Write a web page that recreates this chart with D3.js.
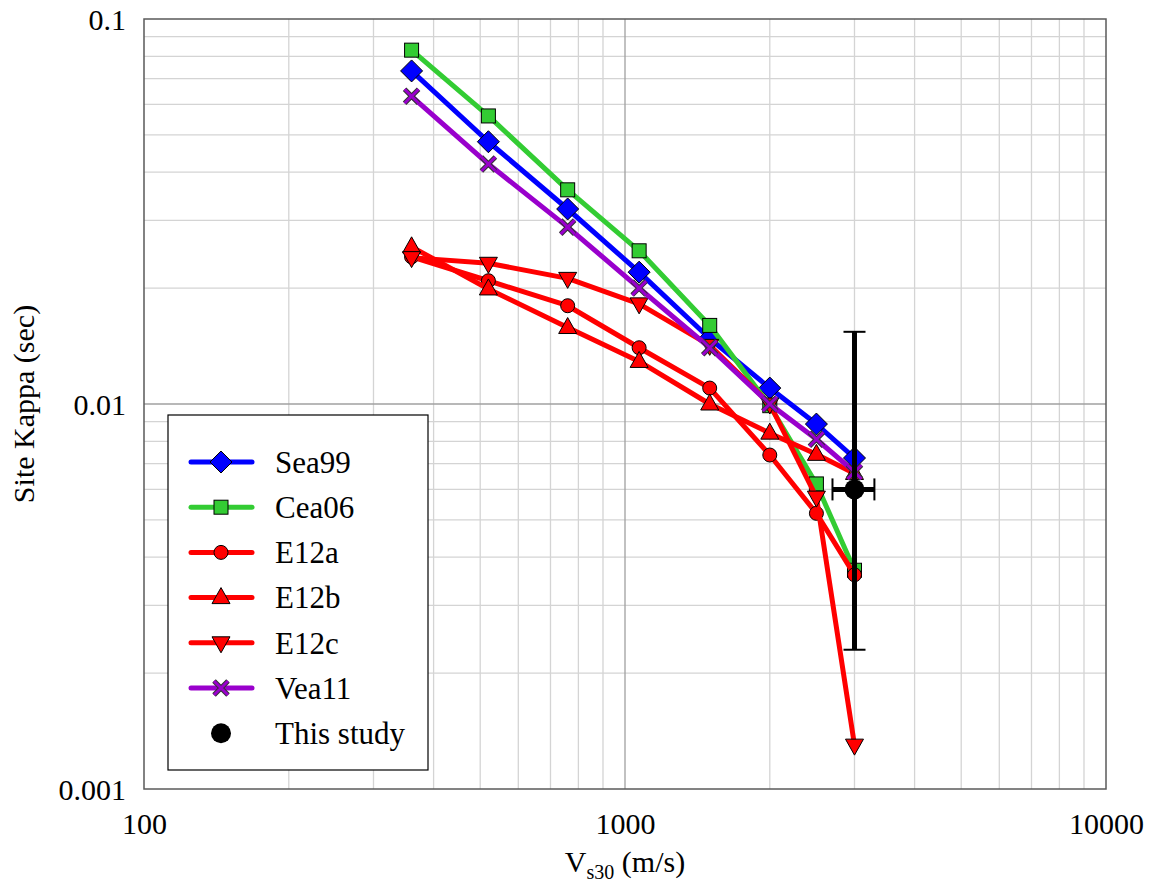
<!DOCTYPE html>
<html>
<head>
<meta charset="utf-8">
<script src="https://cdn.jsdelivr.net/npm/d3@7"></script>
<style>
  html, body { margin: 0; padding: 0; background: #fff; }
  #chart text { font-family: "Liberation Serif", "Times New Roman", Times, serif !important; fill: #000; }
</style>
</head>
<body>
<svg id="chart" width="1152" height="886"></svg>
<script>
// Vs30 values (m/s) at which each site-kappa model is evaluated
const vs30 = [360, 520, 760, 1070, 1500, 2000, 2500, 3000];

// Site kappa (sec) per model
const sea99 = [0.0733, 0.048, 0.0321, 0.0220, 0.0148, 0.0110, 0.00887, 0.00724];
const cea06 = [0.083, 0.056, 0.036, 0.0250, 0.0160, 0.0099, 0.0062, 0.0037];
const e12a  = [0.0241, 0.0209, 0.0180, 0.0140, 0.0110, 0.00737, 0.0052, 0.0036];
const e12b  = [0.0256, 0.0199, 0.0158, 0.0129, 0.0100, 0.0084, 0.0074, 0.0066];
const e12c  = [0.0240, 0.0232, 0.0212, 0.0182, 0.0142, 0.0100, 0.00573, 0.0013];
const vea11 = [0.063, 0.042, 0.0288, 0.0200, 0.0140, 0.0100, 0.0081, 0.00666];

// This study: single estimate with error bars
const studyVs30 = 3000, studyVsLo = 2700, studyVsHi = 3300;
const studyKappa = 0.0060, studyKappaLo = 0.0023, studyKappaHi = 0.0154;

const seriesNames = ["Sea99", "Cea06", "E12a", "E12b", "E12c", "Vea11"];
const seriesValues = [sea99, cea06, e12a, e12b, e12c, vea11];
const seriesColors = ["#0000ff", "#33cc33", "#ff0000", "#ff0000", "#ff0000", "#9900cc"];
const seriesMarkers = ["diamond", "square", "circle", "triangleUp", "triangleDown", "cross"];

const xTicks = [100, 1000, 10000];
const yTicks = [0.001, 0.01, 0.1];

const serif = '"Liberation Serif", "Times New Roman", Times, serif';
const svg = d3.select("#chart");
const plotL = 144, plotR = 1106, plotT = 19, plotB = 789;

const x = d3.scaleLog().domain([100, 10000]).range([plotL, plotR]);
const y = d3.scaleLog().domain([0.001, 0.1]).range([plotB, plotT]);

// Grid: minor lines at 2..9 of each decade, major at decades
const minorX = [], minorY = [];
for (const d of [100, 1000]) for (let k = 2; k <= 9; k++) minorX.push(d * k);
for (const d of [0.001, 0.01]) for (let k = 2; k <= 9; k++) minorY.push(d * k);

const grid = svg.append("g");
grid.selectAll(".mx").data(minorX).join("line")
  .attr("x1", d => x(d)).attr("x2", d => x(d)).attr("y1", plotT).attr("y2", plotB)
  .attr("stroke", "#d4d4d4").attr("stroke-width", 1.3);
grid.selectAll(".my").data(minorY).join("line")
  .attr("x1", plotL).attr("x2", plotR).attr("y1", d => y(d)).attr("y2", d => y(d))
  .attr("stroke", "#d4d4d4").attr("stroke-width", 1.3);
grid.selectAll(".Mx").data(xTicks.slice(1, -1)).join("line")
  .attr("x1", d => x(d)).attr("x2", d => x(d)).attr("y1", plotT).attr("y2", plotB)
  .attr("stroke", "#a0a0a0").attr("stroke-width", 1.3);
grid.selectAll(".My").data(yTicks.slice(1, -1)).join("line")
  .attr("x1", plotL).attr("x2", plotR).attr("y1", d => y(d)).attr("y2", d => y(d))
  .attr("stroke", "#a0a0a0").attr("stroke-width", 1.3);

// Plot frame
svg.append("rect").attr("x", plotL).attr("y", plotT)
  .attr("width", plotR - plotL).attr("height", plotB - plotT)
  .attr("fill", "none").attr("stroke", "#5a5a5a").attr("stroke-width", 1.5);

// Axes (labels only, frame drawn above)
const xAxis = d3.axisBottom(x).tickValues(xTicks).tickFormat(d3.format("d")).tickSize(0).tickPadding(24);
const yAxis = d3.axisLeft(y).tickValues(yTicks).tickFormat(d => String(d)).tickSize(0).tickPadding(18);
const gx = svg.append("g").attr("transform", `translate(0,${plotB})`).call(xAxis);
const gy = svg.append("g").attr("transform", `translate(${plotL},0)`).call(yAxis);
for (const g of [gx, gy]) {
  g.select(".domain").remove();
  g.attr("font-family", null).attr("font-size", null);
  g.selectAll("text").style("font-family", serif).style("font-size", "30px");
}
gy.selectAll("text").attr("dy", "0.35em");

// Axis titles
svg.append("text").attr("transform", `translate(34,${(plotT + plotB) / 2}) rotate(-90)`)
  .attr("text-anchor", "middle").style("font-family", serif).style("font-size", "30px").text("Site Kappa (sec)");
const xt = svg.append("text").attr("x", 625).attr("y", 872).attr("text-anchor", "middle")
  .style("font-family", serif).style("font-size", "30px");
xt.append("tspan").text("V");
xt.append("tspan").style("font-size", "20px").attr("dy", 7).text("s30");
xt.append("tspan").attr("dy", -7).text(" (m/s)");

// Marker drawing
function drawMarker(g, type, color) {
  const s = "#000", sw = 1;
  switch (type) {
    case "diamond":
      g.append("path").attr("d", "M0,-11L11,0L0,11L-11,0Z").attr("fill", color).attr("stroke", s).attr("stroke-width", sw); break;
    case "square":
      g.append("rect").attr("x", -7).attr("y", -7).attr("width", 14).attr("height", 14).attr("fill", color).attr("stroke", s).attr("stroke-width", sw); break;
    case "circle":
      g.append("circle").attr("r", 7).attr("fill", color).attr("stroke", s).attr("stroke-width", sw); break;
    case "triangleUp":
      g.append("path").attr("d", "M0,-10L9,6L-9,6Z").attr("fill", color).attr("stroke", s).attr("stroke-width", sw); break;
    case "triangleDown":
      g.append("path").attr("d", "M0,10L9,-6L-9,-6Z").attr("fill", color).attr("stroke", s).attr("stroke-width", sw); break;
    case "cross":
      g.append("path").attr("d", "M-7,-7L7,7M7,-7L-7,7").attr("stroke", "#333").attr("stroke-width", 5).attr("fill", "none");
      g.append("path").attr("d", "M-7,-7L7,7M7,-7L-7,7").attr("stroke", color).attr("stroke-width", 3).attr("fill", "none"); break;
  }
}

const line = d3.line().x(d => x(d[0])).y(d => y(d[1]));

seriesValues.forEach((vals, i) => {
  const pts = vs30.map((v, j) => [v, vals[j]]);
  svg.append("path").datum(pts).attr("d", line)
    .attr("fill", "none").attr("stroke", seriesColors[i]).attr("stroke-width", 5)
    .attr("stroke-linejoin", "round");
  pts.forEach(p => {
    const g = svg.append("g").attr("transform", `translate(${x(p[0])},${y(p[1])})`);
    drawMarker(g, seriesMarkers[i], seriesColors[i]);
  });
});

// This study with error bars
const sg = svg.append("g");
sg.append("line").attr("x1", x(studyVs30)).attr("x2", x(studyVs30))
  .attr("y1", y(studyKappaHi)).attr("y2", y(studyKappaLo)).attr("stroke", "#000").attr("stroke-width", 5);
sg.append("line").attr("x1", x(studyVsLo)).attr("x2", x(studyVsHi))
  .attr("y1", y(studyKappa)).attr("y2", y(studyKappa)).attr("stroke", "#000").attr("stroke-width", 5);
for (const k of [studyKappaHi, studyKappaLo])
  sg.append("line").attr("x1", x(studyVs30) - 11).attr("x2", x(studyVs30) + 11)
    .attr("y1", y(k)).attr("y2", y(k)).attr("stroke", "#000").attr("stroke-width", 2);
for (const v of [studyVsLo, studyVsHi])
  sg.append("line").attr("x1", x(v)).attr("x2", x(v))
    .attr("y1", y(studyKappa) - 11).attr("y2", y(studyKappa) + 11).attr("stroke", "#000").attr("stroke-width", 2);
sg.append("circle").attr("cx", x(studyVs30)).attr("cy", y(studyKappa)).attr("r", 10).attr("fill", "#000");

// Legend
const lg = svg.append("g");
lg.append("rect").attr("x", 168).attr("y", 415).attr("width", 260).attr("height", 355)
  .attr("fill", "#fff").attr("stroke", "#000").attr("stroke-width", 1.2);
const legendItems = seriesNames.map((n, i) => ({ name: n, color: seriesColors[i], marker: seriesMarkers[i] }))
  .concat([{ name: "This study", color: "#000", marker: "dot" }]);
legendItems.forEach((it, i) => {
  const cy = 462 + i * 45.2;
  if (it.marker !== "dot") {
    lg.append("line").attr("x1", 191).attr("x2", 252).attr("y1", cy).attr("y2", cy)
      .attr("stroke", it.color).attr("stroke-width", 5).attr("stroke-linecap", "round");
    drawMarker(lg.append("g").attr("transform", `translate(221,${cy})`), it.marker, it.color);
  } else {
    lg.append("circle").attr("cx", 221).attr("cy", cy).attr("r", 10).attr("fill", "#000");
  }
  lg.append("text").attr("x", 275).attr("y", cy).attr("dy", "0.35em")
    .style("font-family", serif).style("font-size", "31px").text(it.name);
});
</script>
</body>
</html>
